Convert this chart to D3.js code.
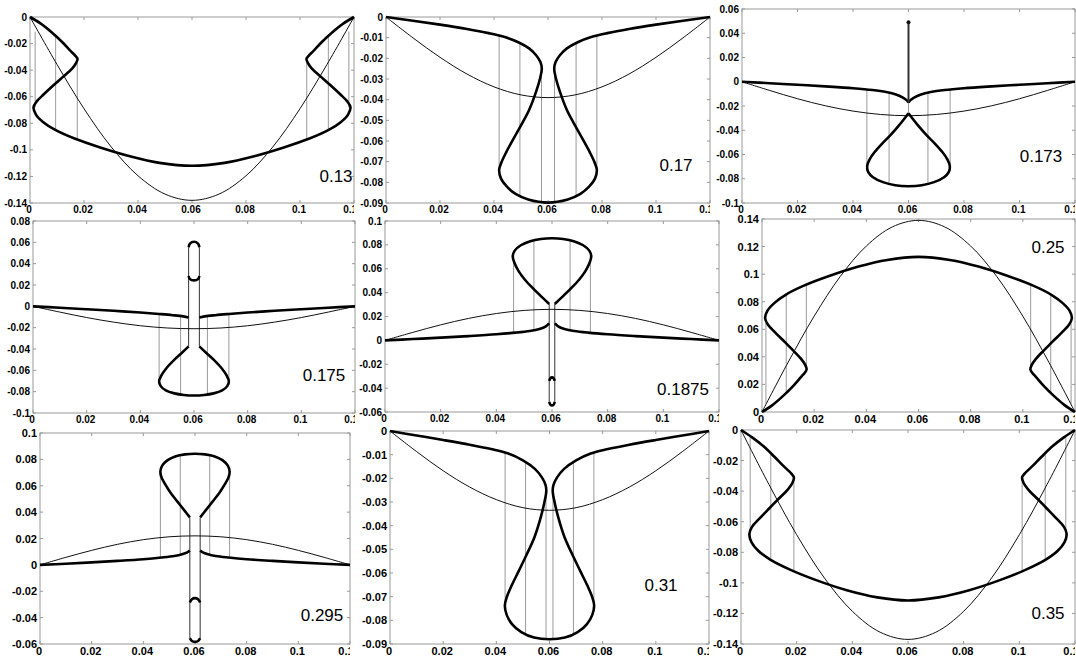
<!DOCTYPE html>
<html>
<head>
<meta charset="utf-8">
<script src="https://cdnjs.cloudflare.com/ajax/libs/d3/7.8.5/d3.min.js"></script>
<style>
  body { margin: 0; background: #fff; }
  svg { display: block; }
</style>
</head>
<body>
<svg id="chart" width="1076" height="659"></svg>
<script>
// shared x grid and ticks
const xGrid = [0, 0.01, 0.02, 0.03, 0.04, 0.05, 0.06, 0.07, 0.08, 0.09, 0.1, 0.11, 0.12];
const xTickLabels = ["0", "0.02", "0.04", "0.06", "0.08", "0.1", "0.12"];

// ---- 0.13 ----
const p13Thin = [0, -0.0357, -0.069, -0.0976, -0.1195, -0.1333, -0.138, -0.1333, -0.1195, -0.0976, -0.069, -0.0357, 0];
const p13Thick = [
  [[0, 0], [0.004, -0.005], [0.008, -0.0115], [0.012, -0.019], [0.015, -0.0255], [0.0168, -0.0292], [0.0176, -0.0315], [0.0171, -0.0345],
   [0.0155, -0.039], [0.0125, -0.0445], [0.0088, -0.0512], [0.0052, -0.058], [0.0025, -0.0635], [0.0013, -0.068], [0.0022, -0.0735],
   [0.0048, -0.079], [0.0092, -0.0848], [0.0165, -0.0915], [0.026, -0.0982], [0.037, -0.1048], [0.048, -0.1098], [0.06, -0.112],
   [0.072, -0.1098], [0.083, -0.1048], [0.094, -0.0982], [0.1035, -0.0915], [0.1108, -0.0848], [0.1152, -0.079], [0.1178, -0.0735],
   [0.1187, -0.068], [0.1175, -0.0635], [0.1148, -0.058], [0.1112, -0.0512], [0.1075, -0.0445], [0.1045, -0.039], [0.1029, -0.0345],
   [0.1024, -0.0315], [0.1032, -0.0292], [0.105, -0.0255], [0.108, -0.019], [0.112, -0.0115], [0.116, -0.005], [0.12, 0]]
];
const p13Jumps = [[0.0019, -0.011, -0.068], [0.0095, -0.0143, -0.0852], [0.0175, -0.031, -0.0925], [0.1025, -0.031, -0.0925], [0.1105, -0.0143, -0.0852], [0.1181, -0.011, -0.068]];
const p13YTicks = ["0", "-0.02", "-0.04", "-0.06", "-0.08", "-0.1", "-0.12", "-0.14"];

// ---- 0.17 ----
const p17Thin = [0, -0.0101, -0.0195, -0.0276, -0.0338, -0.0377, -0.039, -0.0377, -0.0338, -0.0276, -0.0195, -0.0101, 0];
const p17Thick = [
  [[0, 0], [0.01, -0.0018], [0.02, -0.0037], [0.03, -0.0058], [0.038, -0.0078], [0.044, -0.0097], [0.049, -0.0122], [0.053, -0.0152],
   [0.0556, -0.0185], [0.0572, -0.0218], [0.0577, -0.025], [0.0571, -0.0295], [0.0555, -0.0365], [0.053, -0.045], [0.0502, -0.052],
   [0.0472, -0.059], [0.0445, -0.0655], [0.0427, -0.0705], [0.0419, -0.074], [0.0426, -0.0782], [0.0447, -0.082], [0.048, -0.0856],
   [0.0527, -0.0883], [0.06, -0.0898], [0.0673, -0.0883], [0.072, -0.0856], [0.0753, -0.082], [0.0774, -0.0782], [0.0781, -0.074],
   [0.0773, -0.0705], [0.0755, -0.0655], [0.0728, -0.059], [0.0698, -0.052], [0.067, -0.045], [0.0645, -0.0365], [0.0629, -0.0295],
   [0.0623, -0.025], [0.0628, -0.0218], [0.0644, -0.0185], [0.067, -0.0152], [0.071, -0.0122], [0.076, -0.0097], [0.082, -0.0078],
   [0.09, -0.0058], [0.1, -0.0037], [0.11, -0.0018], [0.12, 0]]
];
const p17Jumps = [[0.0419, -0.0092, -0.074], [0.0496, -0.0127, -0.0868], [0.0576, -0.0238, -0.0895], [0.0624, -0.0238, -0.0895], [0.0704, -0.0127, -0.0868], [0.0781, -0.0092, -0.074]];
const p17YTicks = ["0", "-0.01", "-0.02", "-0.03", "-0.04", "-0.05", "-0.06", "-0.07", "-0.08", "-0.09"];

// ---- 0.173 ----
const p173Thin = [0, -0.0072, -0.014, -0.0198, -0.0242, -0.027, -0.028, -0.027, -0.0242, -0.0198, -0.014, -0.0072, 0];
const p173Thick = [
  [[0, 0], [0.01, -0.0012], [0.02, -0.0025], [0.03, -0.0038], [0.04, -0.0053], [0.047, -0.0068], [0.052, -0.0085], [0.0555, -0.0105], [0.058, -0.013], [0.0595, -0.0155], [0.06, -0.0172]],
  [[0.06, -0.0172], [0.0605, -0.0155], [0.062, -0.013], [0.0645, -0.0105], [0.068, -0.0085], [0.073, -0.0068], [0.08, -0.0053], [0.09, -0.0038], [0.1, -0.0025], [0.11, -0.0012], [0.12, 0]],
  [[0.06, -0.026], [0.0585, -0.0305], [0.0562, -0.037], [0.0535, -0.044], [0.0505, -0.051], [0.0478, -0.058], [0.046, -0.064], [0.0451, -0.0695],
   [0.0455, -0.0745], [0.0472, -0.0787], [0.0508, -0.0828], [0.0552, -0.0854], [0.06, -0.0862], [0.0648, -0.0854], [0.0692, -0.0828],
   [0.0728, -0.0787], [0.0745, -0.0745], [0.0749, -0.0695], [0.074, -0.064], [0.0722, -0.058], [0.0695, -0.051], [0.0665, -0.044],
   [0.0638, -0.037], [0.0615, -0.0305], [0.06, -0.026]]
];
const p173Spike = [[0.06, -0.0172], [0.06, 0.049]];
const p173Jumps = [[0.045, -0.0063, -0.071], [0.053, -0.0083, -0.0845], [0.06, -0.0172, -0.026], [0.067, -0.0083, -0.0845], [0.075, -0.0063, -0.071]];
const p173YTicks = ["0.06", "0.04", "0.02", "0", "-0.02", "-0.04", "-0.06", "-0.08", "-0.1"];

// ---- 0.175 ----
const p175Thin = [0, -0.0054, -0.0105, -0.0148, -0.0182, -0.0203, -0.021, -0.0203, -0.0182, -0.0148, -0.0105, -0.0054, 0];
const p175Thick = [
  [[0, 0], [0.01, -0.0013], [0.02, -0.0027], [0.03, -0.0042], [0.04, -0.0058], [0.047, -0.0072], [0.052, -0.0083], [0.056, -0.0094], [0.058, -0.0104]],
  [[0.062, -0.0104], [0.064, -0.0094], [0.068, -0.0083], [0.073, -0.0072], [0.08, -0.0058], [0.09, -0.0042], [0.1, -0.0027], [0.11, -0.0013], [0.12, 0]],
  [[0.058, 0.0555], [0.0585, 0.0588], [0.06, 0.0605], [0.0615, 0.0588], [0.062, 0.0555]],
  [[0.058, 0.0285], [0.0585, 0.0255], [0.06, 0.0243], [0.0615, 0.0255], [0.062, 0.0285]],
  [[0.058, -0.0375], [0.0555, -0.0435], [0.0525, -0.0505], [0.0497, -0.058], [0.0478, -0.065], [0.047, -0.0702], [0.0476, -0.0748],
   [0.0495, -0.0788], [0.0527, -0.0816], [0.0562, -0.0831], [0.06, -0.0836], [0.0638, -0.0831], [0.0673, -0.0816], [0.0705, -0.0788],
   [0.0724, -0.0748], [0.073, -0.0702], [0.0722, -0.065], [0.0703, -0.058], [0.0675, -0.0505], [0.0645, -0.0435], [0.062, -0.0375]]
];
const p175Stems = [[0.058, 0.0555, -0.0375], [0.062, 0.0555, -0.0375]];
const p175Jumps = [[0.047, -0.0072, -0.0705], [0.055, -0.0091, -0.0826], [0.065, -0.0091, -0.0826], [0.073, -0.0072, -0.0705]];
const p175YTicks = ["0.08", "0.06", "0.04", "0.02", "0", "-0.02", "-0.04", "-0.06", "-0.08", "-0.1"];

// ---- 0.1875 ----
const p1875Thin = [0, 0.0067, 0.013, 0.0184, 0.0225, 0.0251, 0.026, 0.0251, 0.0225, 0.0184, 0.013, 0.0067, 0];
const p1875Thick = [
  [[0, 0], [0.01, 0.0011], [0.02, 0.0023], [0.03, 0.0036], [0.04, 0.0051], [0.047, 0.0065], [0.052, 0.0079], [0.0555, 0.0096], [0.0578, 0.0118], [0.059, 0.0142]],
  [[0.061, 0.0142], [0.0622, 0.0118], [0.0645, 0.0096], [0.068, 0.0079], [0.073, 0.0065], [0.08, 0.0051], [0.09, 0.0036], [0.1, 0.0023], [0.11, 0.0011], [0.12, 0]],
  [[0.059, 0.0305], [0.0565, 0.036], [0.0532, 0.0435], [0.0502, 0.051], [0.048, 0.058], [0.0465, 0.065], [0.0459, 0.0705], [0.0466, 0.0752],
   [0.0488, 0.0797], [0.0522, 0.0831], [0.056, 0.0849], [0.06, 0.0855], [0.064, 0.0849], [0.0678, 0.0831], [0.0712, 0.0797],
   [0.0734, 0.0752], [0.0741, 0.0705], [0.0735, 0.065], [0.072, 0.058], [0.0698, 0.051], [0.0668, 0.0435], [0.0635, 0.036], [0.061, 0.0305]],
  [[0.059, -0.034], [0.0594, -0.0318], [0.06, -0.031], [0.0606, -0.0318], [0.061, -0.034]],
  [[0.059, -0.0515], [0.0594, -0.0538], [0.06, -0.0545], [0.0606, -0.0538], [0.061, -0.0515]]
];
const p1875Stems = [[0.059, 0.0305, -0.0515], [0.061, 0.0305, -0.0515]];
const p1875Jumps = [[0.0462, 0.0064, 0.0708], [0.0535, 0.0085, 0.0842], [0.0665, 0.0085, 0.0842], [0.0738, 0.0064, 0.0708]];
const p1875YTicks = ["0.1", "0.08", "0.06", "0.04", "0.02", "0", "-0.02", "-0.04", "-0.06"];

// ---- 0.25 ----
const p25Thin = [0, 0.036, 0.0695, 0.0983, 0.1204, 0.1343, 0.139, 0.1343, 0.1204, 0.0983, 0.0695, 0.036, 0];
const p25Thick = [
  [[0, 0], [0.004, 0.005], [0.008, 0.0115], [0.012, 0.019], [0.015, 0.0255], [0.0164, 0.0285], [0.0171, 0.031], [0.0166, 0.034],
   [0.015, 0.0385], [0.0122, 0.0442], [0.0086, 0.051], [0.005, 0.0578], [0.0023, 0.0633], [0.0012, 0.068], [0.0021, 0.0735],
   [0.0047, 0.079], [0.0092, 0.0852], [0.0165, 0.092], [0.026, 0.0988], [0.037, 0.1055], [0.048, 0.1103], [0.06, 0.1125],
   [0.072, 0.1103], [0.083, 0.1055], [0.094, 0.0988], [0.1035, 0.092], [0.1108, 0.0852], [0.1153, 0.079], [0.1179, 0.0735],
   [0.1188, 0.068], [0.1177, 0.0633], [0.115, 0.0578], [0.1114, 0.051], [0.1078, 0.0442], [0.105, 0.0385], [0.1034, 0.034],
   [0.1029, 0.031], [0.1036, 0.0285], [0.105, 0.0255], [0.108, 0.019], [0.112, 0.0115], [0.116, 0.005], [0.12, 0]]
];
const p25Jumps = [[0.0015, 0.006, 0.0676], [0.0093, 0.0133, 0.0852], [0.017, 0.03, 0.0922], [0.103, 0.03, 0.0922], [0.1107, 0.0133, 0.0852], [0.1185, 0.006, 0.0676]];
const p25YTicks = ["0.14", "0.12", "0.1", "0.08", "0.06", "0.04", "0.02", "0"];

// ---- 0.295 ----
const p295Thin = [0, 0.0057, 0.011, 0.0156, 0.0191, 0.0213, 0.022, 0.0213, 0.0191, 0.0156, 0.011, 0.0057, 0];
const p295Thick = [
  [[0, 0], [0.01, 0.0009], [0.02, 0.0019], [0.03, 0.003], [0.04, 0.0043], [0.047, 0.0056], [0.052, 0.0068], [0.055, 0.0081], [0.057, 0.0095], [0.058, 0.0108]],
  [[0.062, 0.0108], [0.063, 0.0095], [0.065, 0.0081], [0.068, 0.0068], [0.073, 0.0056], [0.08, 0.0043], [0.09, 0.003], [0.1, 0.0019], [0.11, 0.0009], [0.12, 0]],
  [[0.058, 0.036], [0.0558, 0.0415], [0.0532, 0.048], [0.0506, 0.0545], [0.0485, 0.061], [0.047, 0.0665], [0.0466, 0.0708], [0.0473, 0.0752],
   [0.0494, 0.0794], [0.0526, 0.0824], [0.0561, 0.0838], [0.06, 0.0843], [0.0639, 0.0838], [0.0674, 0.0824], [0.0706, 0.0794],
   [0.0727, 0.0752], [0.0734, 0.0708], [0.073, 0.0665], [0.0715, 0.061], [0.0694, 0.0545], [0.0668, 0.048], [0.0642, 0.0415], [0.062, 0.036]],
  [[0.058, -0.0285], [0.0588, -0.026], [0.06, -0.0252], [0.0612, -0.026], [0.062, -0.0285]],
  [[0.058, -0.0555], [0.0588, -0.0577], [0.06, -0.0584], [0.0612, -0.0577], [0.062, -0.0555]]
];
const p295Stems = [[0.058, 0.036, -0.0555], [0.062, 0.036, -0.0555]];
const p295Jumps = [[0.0466, 0.0056, 0.0708], [0.0543, 0.0073, 0.0836], [0.0657, 0.0073, 0.0836], [0.0734, 0.0056, 0.0708]];
const p295YTicks = ["0.1", "0.08", "0.06", "0.04", "0.02", "0", "-0.02", "-0.04", "-0.06"];

// ---- 0.31 ----
const p31Thin = [0, -0.0087, -0.0168, -0.0237, -0.029, -0.0324, -0.0335, -0.0324, -0.029, -0.0237, -0.0168, -0.0087, 0];
const p31Thick = [
  [[0, 0], [0.01, -0.0019], [0.02, -0.0038], [0.03, -0.0058], [0.038, -0.0076], [0.0445, -0.0095], [0.05, -0.0124], [0.0545, -0.016],
   [0.0572, -0.0197], [0.0585, -0.0228], [0.0588, -0.0252], [0.0582, -0.0295], [0.0567, -0.0365], [0.0543, -0.045], [0.0515, -0.052],
   [0.0485, -0.059], [0.0458, -0.0652], [0.0439, -0.0703], [0.0432, -0.0738], [0.0439, -0.0777], [0.0459, -0.0816], [0.0494, -0.085],
   [0.0542, -0.0873], [0.06, -0.088], [0.0658, -0.0873], [0.0706, -0.085], [0.0741, -0.0816], [0.0761, -0.0777], [0.0768, -0.0738],
   [0.0761, -0.0703], [0.0742, -0.0652], [0.0715, -0.059], [0.0685, -0.052], [0.0657, -0.045], [0.0633, -0.0365], [0.0618, -0.0295],
   [0.0612, -0.0252], [0.0615, -0.0228], [0.0628, -0.0197], [0.0655, -0.016], [0.07, -0.0124], [0.0755, -0.0095], [0.082, -0.0076],
   [0.09, -0.0058], [0.1, -0.0038], [0.11, -0.0019], [0.12, 0]]
];
const p31Jumps = [[0.0433, -0.0088, -0.0725], [0.051, -0.0128, -0.086], [0.0587, -0.0245, -0.0877], [0.0613, -0.0245, -0.0877], [0.069, -0.0128, -0.086], [0.0767, -0.0088, -0.0725]];
const p31YTicks = ["0", "-0.01", "-0.02", "-0.03", "-0.04", "-0.05", "-0.06", "-0.07", "-0.08", "-0.09"];

// ---- 0.35 ----
const p35Thin = [0, -0.0355, -0.0685, -0.0969, -0.1186, -0.1323, -0.137, -0.1323, -0.1186, -0.0969, -0.0685, -0.0355, 0];
const p35Thick = [
  [[0, 0], [0.004, -0.0048], [0.008, -0.0105], [0.012, -0.0175], [0.0155, -0.024], [0.0181, -0.0285], [0.019, -0.031], [0.0185, -0.0345],
   [0.0168, -0.039], [0.0138, -0.0445], [0.0102, -0.0512], [0.0066, -0.058], [0.0039, -0.0635], [0.003, -0.068], [0.0038, -0.0735],
   [0.0062, -0.079], [0.0105, -0.0848], [0.0178, -0.0915], [0.027, -0.0982], [0.038, -0.1048], [0.049, -0.1095], [0.06, -0.1115],
   [0.071, -0.1095], [0.082, -0.1048], [0.093, -0.0982], [0.1022, -0.0915], [0.1095, -0.0848], [0.1138, -0.079], [0.1162, -0.0735],
   [0.117, -0.068], [0.1161, -0.0635], [0.1134, -0.058], [0.1098, -0.0512], [0.1062, -0.0445], [0.1032, -0.039], [0.1015, -0.0345],
   [0.101, -0.031], [0.1019, -0.0285], [0.1045, -0.024], [0.108, -0.0175], [0.112, -0.0105], [0.116, -0.0048], [0.12, 0]]
];
const p35Jumps = [[0.0033, -0.004, -0.069], [0.0107, -0.016, -0.0852], [0.019, -0.031, -0.092], [0.101, -0.031, -0.092], [0.1093, -0.016, -0.0852], [0.1167, -0.004, -0.069]];
const p35YTicks = ["0", "-0.02", "-0.04", "-0.06", "-0.08", "-0.1", "-0.12", "-0.14"];

const panels = [
  { label: "0.13",   thin: p13Thin,   thick: p13Thick,   jumps: p13Jumps,   yTicks: p13YTicks },
  { label: "0.17",   thin: p17Thin,   thick: p17Thick,   jumps: p17Jumps,   yTicks: p17YTicks },
  { label: "0.173",  thin: p173Thin,  thick: p173Thick,  jumps: p173Jumps,  yTicks: p173YTicks, spike: p173Spike },
  { label: "0.175",  thin: p175Thin,  thick: p175Thick,  jumps: p175Jumps,  yTicks: p175YTicks, stems: p175Stems },
  { label: "0.1875", thin: p1875Thin, thick: p1875Thick, jumps: p1875Jumps, yTicks: p1875YTicks, stems: p1875Stems },
  { label: "0.25",   thin: p25Thin,   thick: p25Thick,   jumps: p25Jumps,   yTicks: p25YTicks },
  { label: "0.295",  thin: p295Thin,  thick: p295Thick,  jumps: p295Jumps,  yTicks: p295YTicks, stems: p295Stems },
  { label: "0.31",   thin: p31Thin,   thick: p31Thick,   jumps: p31Jumps,   yTicks: p31YTicks },
  { label: "0.35",   thin: p35Thin,   thick: p35Thick,   jumps: p35Jumps,   yTicks: p35YTicks }
];

// plot boxes in the picture (pixels) and where the parameter label sits
const layout = [
  { left: 30,  right: 354,  top: 17,  bottom: 203, font: 10, ann: [336, 182] },
  { left: 386, right: 710,  top: 17,  bottom: 203, font: 10, ann: [676, 171] },
  { left: 742, right: 1075, top: 9,   bottom: 203, font: 10, ann: [1041, 162] },
  { left: 33,  right: 355,  top: 221, bottom: 413, font: 10, ann: [324, 381] },
  { left: 385, right: 719,  top: 221, bottom: 412, font: 10, ann: [683, 395] },
  { left: 762, right: 1075, top: 219, bottom: 412, font: 11, ann: [1048, 253] },
  { left: 40,  right: 350,  top: 433, bottom: 644, font: 11, ann: [322, 621] },
  { left: 390, right: 709,  top: 431, bottom: 644, font: 11, ann: [661, 591] },
  { left: 741, right: 1075, top: 430, bottom: 644, font: 11, ann: [1048, 619] }
];

const svg = d3.select('#chart');
const tickFont = '"Liberation Sans", Arial, sans-serif';
const frameColor = '#999';

panels.forEach((p, i) => {
  const L = layout[i];
  const yVals = p.yTicks.map(Number);
  const x = d3.scaleLinear().domain([0, 0.12]).range([L.left, L.right]);
  const y = d3.scaleLinear().domain(d3.extent(yVals)).range([L.bottom, L.top]);
  const g = svg.append('g').attr('class', 'panel');

  // the last x label is cut by the next plot, like in the figure
  const clipId = 'clip' + i;
  svg.append('clipPath').attr('id', clipId)
    .append('rect').attr('x', L.left - 25).attr('y', L.bottom).attr('width', L.right - L.left + 25).attr('height', 20);

  // frame
  g.append('rect')
    .attr('x', L.left).attr('y', L.top)
    .attr('width', L.right - L.left).attr('height', L.bottom - L.top)
    .attr('fill', 'none').attr('stroke', frameColor).attr('stroke-width', 1);

  // ticks, inward, on all sides
  const xTickVals = xTickLabels.map(Number);
  g.selectAll('.xt').data(xTickVals).enter().append('path')
    .attr('d', d => `M${x(d)},${L.bottom}v-3M${x(d)},${L.top}v3`)
    .attr('stroke', frameColor).attr('stroke-width', 1);
  g.selectAll('.yt').data(yVals).enter().append('path')
    .attr('d', d => `M${L.left},${y(d)}h3M${L.right},${y(d)}h-3`)
    .attr('stroke', frameColor).attr('stroke-width', 1);

  // tick labels
  g.append('g').attr('clip-path', `url(#${clipId})`)
    .selectAll('text').data(xTickLabels).enter().append('text')
    .attr('x', d => x(+d) - 1).attr('y', L.bottom + L.font)
    .attr('text-anchor', 'middle')
    .style('font', `bold ${L.font}px ${tickFont}`)
    .text(d => d);
  g.selectAll('.yl').data(p.yTicks).enter().append('text')
    .attr('x', L.left - 3).attr('y', d => y(+d))
    .attr('text-anchor', 'end').attr('dominant-baseline', 'central')
    .style('font', `bold ${L.font}px ${tickFont}`)
    .text(d => d);

  // vertical jump lines
  g.selectAll('.jump').data(p.jumps).enter().append('line')
    .attr('x1', d => x(d[0])).attr('x2', d => x(d[0]))
    .attr('y1', d => y(d[1])).attr('y2', d => y(d[2]))
    .attr('stroke', '#9a9a9a').attr('stroke-width', 1);

  // thin stems of the central capsule
  if (p.stems) {
    g.selectAll('.stem').data(p.stems).enter().append('line')
      .attr('x1', d => x(d[0])).attr('x2', d => x(d[0]))
      .attr('y1', d => y(d[1])).attr('y2', d => y(d[2]))
      .attr('stroke', '#333').attr('stroke-width', 1);
  }

  // thin curve
  const thinLine = d3.line().x((d, j) => x(xGrid[j])).y(d => y(d)).curve(d3.curveCatmullRom);
  g.append('path').attr('d', thinLine(p.thin))
    .attr('fill', 'none').attr('stroke', '#111').attr('stroke-width', 1);

  // thick curve
  const thickLine = d3.line().x(d => x(d[0])).y(d => y(d[1])).curve(d3.curveCatmullRom);
  g.selectAll('.thick').data(p.thick).enter().append('path')
    .attr('d', d => thickLine(d))
    .attr('fill', 'none').attr('stroke', '#000').attr('stroke-width', 2.6)
    .attr('stroke-linejoin', 'round');

  if (p.spike) {
    g.append('path').attr('d', thickLine(p.spike))
      .attr('fill', 'none').attr('stroke', '#333').attr('stroke-width', 2);
    g.append('circle').attr('cx', x(p.spike[1][0])).attr('cy', y(p.spike[1][1])).attr('r', 2).attr('fill', '#111');
  }

  // parameter value
  g.append('text')
    .attr('x', L.ann[0]).attr('y', L.ann[1])
    .attr('text-anchor', 'middle')
    .style('font', `17px ${tickFont}`)
    .text(p.label);
});
</script>
</body>
</html>
